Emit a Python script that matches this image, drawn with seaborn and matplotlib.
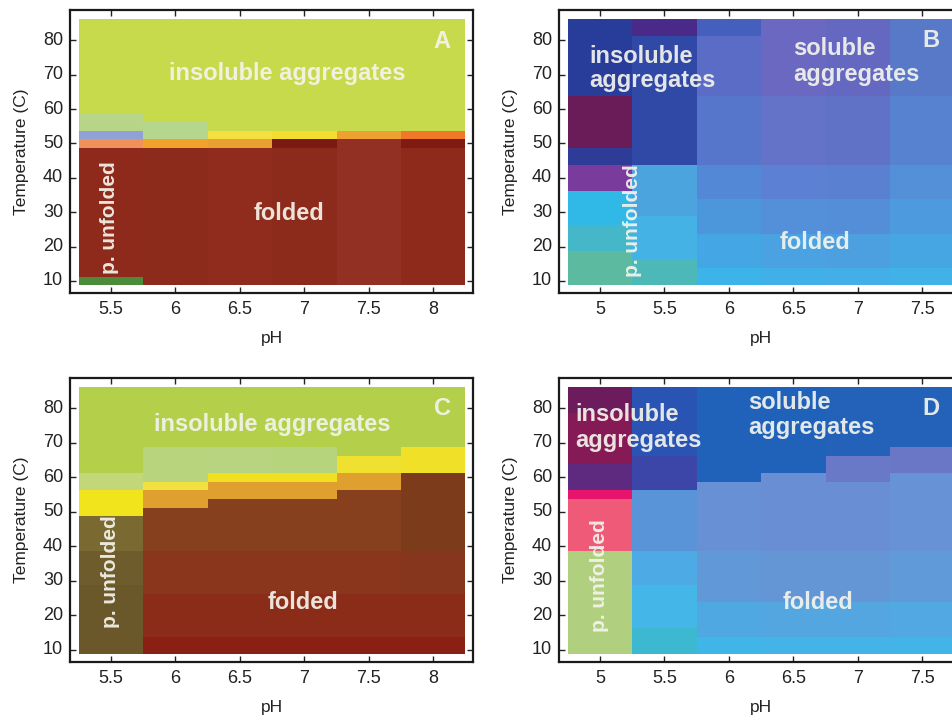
import numpy as np
import matplotlib
matplotlib.use("Agg")
import matplotlib.pyplot as plt
from matplotlib.colors import ListedColormap
import seaborn as sns

sns.set_theme(style="white")
plt.rcParams['font.family'] = ['Liberation Sans', 'DejaVu Sans']

# ---------------- data ----------------
temps = np.arange(10, 85.1, 2.5)          # measured temperatures (rows)
ytick_vals = [10, 20, 30, 40, 50, 60, 70, 80]

ph_A = [5.5, 6, 6.5, 7, 7.5, 8]
ph_B = [5, 5.5, 6, 6.5, 7, 7.5]
ph_C = [5.5, 6, 6.5, 7, 7.5, 8]
ph_D = [5, 5.5, 6, 6.5, 7, 7.5]

# per pH column: list of (upper temperature boundary, colour) from bottom to top
seg_A = [
    [(11.25, '#4a8c3a'), (48.75, '#8e2a1c'), (51.25, '#f0905a'), (53.75, '#8ea2d8'),
     (58.75, '#b8d488'), (86.25, '#c6da4c')],
    [(48.75, '#8c2a1c'), (51.25, '#f0a22a'), (56.25, '#b6d68e'), (86.25, '#c6da4c')],
    [(48.75, '#902c1e'), (51.25, '#e8a030'), (53.75, '#f4e040'), (86.25, '#c6da4c')],
    [(48.75, '#8c2a1c'), (51.25, '#7a1a12'), (53.75, '#f4dc30'), (86.25, '#c6da4c')],
    [(51.25, '#933024'), (53.75, '#eea030'), (86.25, '#c6da4c')],
    [(48.75, '#8e2a1c'), (51.25, '#7e1c14'), (53.75, '#f07828'), (86.25, '#c6da4c')],
]
seg_B = [
    [(18.75, '#5cbaa0'), (26.25, '#44b8c8'), (36.25, '#30b8e6'), (43.75, '#7a3c9c'),
     (48.75, '#2e3c98'), (63.75, '#6a1c58'), (86.25, '#283c9a')],
    [(16.25, '#4cb8b8'), (28.75, '#44b2e4'), (43.75, '#4ca4de'), (81.25, '#3048a6'),
     (86.25, '#4a2a88')],
    [(13.75, '#3cb4ea'), (23.75, '#44a6e4'), (33.75, '#4c96dc'), (43.75, '#5288d6'),
     (63.75, '#5676cc'), (81.25, '#5a6cc6'), (86.25, '#4460bc')],
    [(13.75, '#42b0e8'), (23.75, '#4aa2e2'), (33.75, '#5490da'), (43.75, '#5c80d4'),
     (63.75, '#6472c8'), (86.25, '#6a68c0')],
    [(13.75, '#44aee8'), (23.75, '#4ca0e0'), (33.75, '#548ed8'), (43.75, '#5a80d2'),
     (63.75, '#6072c6'), (86.25, '#6468c0')],
    [(13.75, '#40b2e8'), (23.75, '#46a6e4'), (33.75, '#4e9ade'), (43.75, '#5490d8'),
     (63.75, '#5682d0'), (86.25, '#5878c8')],
]
seg_C = [
    [(28.75, '#6a582a'), (38.75, '#6e5c2c'), (48.75, '#7a6a32'), (56.25, '#f2e41c'),
     (61.25, '#c2d878'), (86.25, '#b4cf4a')],
    [(13.75, '#8a2014'), (26.25, '#8a2c18'), (38.75, '#8a361c'), (51.25, '#86401e'),
     (56.25, '#e0a030'), (58.75, '#f0e040'), (68.75, '#b8d47c'), (86.25, '#b4cf4a')],
    [(13.75, '#8a2014'), (26.25, '#8a2c18'), (38.75, '#8a361c'), (53.75, '#86401e'),
     (58.75, '#e0a030'), (61.25, '#f0e020'), (68.75, '#b8d480'), (86.25, '#b4cf4a')],
    [(13.75, '#8a2014'), (26.25, '#8a2c18'), (38.75, '#8a361c'), (53.75, '#86401e'),
     (58.75, '#e0a030'), (61.25, '#f0e020'), (68.75, '#b6d47c'), (86.25, '#b4cf4a')],
    [(13.75, '#8a2014'), (26.25, '#8a2c18'), (38.75, '#8a361c'), (56.25, '#86401e'),
     (61.25, '#e0a030'), (66.25, '#f0e030'), (86.25, '#b4cf4a')],
    [(13.75, '#8a2014'), (26.25, '#8a2c18'), (38.75, '#86361c'), (61.25, '#7c3c1c'),
     (68.75, '#f0e028'), (86.25, '#b4cf4a')],
]
seg_D = [
    [(38.75, '#b0d080'), (53.75, '#ee5a78'), (56.25, '#e8146c'), (63.75, '#5e2a80'),
     (78.75, '#861a56'), (86.25, '#6c1c5c')],
    [(16.25, '#3cb8d0'), (28.75, '#44b6e8'), (38.75, '#4eaae4'), (56.25, '#5a94d8'),
     (66.25, '#3c46a8'), (86.25, '#2a54b4')],
    [(13.75, '#40b6e8'), (23.75, '#50a8e2'), (38.75, '#6098d8'), (58.75, '#6890d4'),
     (86.25, '#2062ba')],
    [(13.75, '#44b4e8'), (23.75, '#54a6e0'), (38.75, '#6496d6'), (61.25, '#6a8ed4'),
     (86.25, '#2062ba')],
    [(13.75, '#44b4e8'), (23.75, '#54a6e0'), (38.75, '#6496d6'), (58.75, '#6a8ed4'),
     (66.25, '#6a78c8'), (86.25, '#2462ba')],
    [(13.75, '#42b4e8'), (23.75, '#52a8e2'), (38.75, '#609ad8'), (61.25, '#6892d6'),
     (68.75, '#6a76c6'), (86.25, '#2462ba')],
]

# annotations: (text, pH, T, ha, rotation, size)
ann_A = [("insoluble aggregates", 6.87, 70.3, 'center', 0, 17),
         ("folded", 6.88, 29.7, 'center', 0, 17),
         ("p. unfolded", 5.49, 28.3, 'center', 90, 15),
         ("A", 8.07, 79.6, 'center', 0, 17)]
ann_B = [("insoluble", 4.92, 75.4, 'left', 0, 17),
         ("aggregates", 4.92, 68.2, 'left', 0, 17),
         ("soluble", 6.50, 77.6, 'left', 0, 17),
         ("aggregates", 6.50, 70.1, 'left', 0, 17),
         ("folded", 6.67, 21.3, 'center', 0, 17),
         ("p. unfolded", 5.255, 27.6, 'center', 90, 15),
         ("B", 7.565, 80.0, 'center', 0, 17)]
ann_C = [("insoluble aggregates", 6.75, 75.3, 'center', 0, 17),
         ("folded", 6.99, 23.8, 'center', 0, 17),
         ("p. unfolded", 5.5, 32.7, 'center', 90, 15),
         ("C", 8.07, 80.0, 'center', 0, 17)]
ann_D = [("insoluble", 4.81, 78.1, 'left', 0, 17),
         ("aggregates", 4.81, 70.6, 'left', 0, 17),
         ("soluble", 6.15, 81.7, 'left', 0, 17),
         ("aggregates", 6.15, 74.4, 'left', 0, 17),
         ("folded", 6.69, 23.8, 'center', 0, 17),
         ("p. unfolded", 5.0, 31.5, 'center', 90, 15),
         ("D", 7.565, 80.0, 'center', 0, 17)]

# ---------------- drawing ----------------
W, H = 953, 724
fig = plt.figure(figsize=(W / 100, H / 100), dpi=100)

T0 = temps[0] - 1.25
DT = 2.5


def ty(T):
    return (T - T0) / DT


def build(segs, ph):
    colors = []
    mat = np.zeros((len(temps), len(ph)), dtype=int)
    for j, col in enumerate(segs):
        for i, T in enumerate(temps):
            for up, c in col:
                if T < up:
                    if c not in colors:
                        colors.append(c)
                    mat[i, j] = colors.index(c)
                    break
    return mat, colors


def panel(rect, ph, segs, anns):
    ax = fig.add_axes(rect)
    mat, colors = build(segs, ph)
    sns.heatmap(mat, cmap=ListedColormap(colors), vmin=-0.5, vmax=len(colors) - 0.5,
                cbar=False, ax=ax, linewidths=0)
    p0 = ph[0]

    def tx(p):
        return (p - p0) / 0.5 + 0.5

    ax.set_xlim(tx(p0 - 0.318), tx(p0 - 0.318 + 3.127))
    ax.set_ylim(ty(6.5), ty(88.8))
    ax.set_xticks([tx(p) for p in ph])
    ax.set_xticklabels([f"{p:g}" for p in ph], rotation=0)
    ax.set_yticks([ty(t) for t in ytick_vals])
    ax.set_yticklabels([str(t) for t in ytick_vals], rotation=0)
    for s in ax.spines.values():
        s.set_visible(True)
        s.set_linewidth(1.6)
        s.set_color('#1a1a1a')
    ax.tick_params(direction='in', length=4, width=1, top=True, right=True,
                   bottom=True, left=True, labelsize=13, pad=6, colors='#222222',
                   labelcolor='#222222')
    ax.tick_params(axis='y', pad=5)
    ax.set_xlabel("pH", fontsize=12.5, labelpad=9, color='#222222')
    ax.set_ylabel("Temperature (C)", fontsize=12.5, labelpad=10, color='#222222')
    for txt, p, T, ha, rot, size in anns:
        ax.text(tx(p), ty(T), txt, ha=ha, va='center', rotation=rot, fontsize=size,
                fontweight='bold', color='#f4f4ec', alpha=0.92)
    return ax


wfrac = 403 / W
panel([70 / W, (H - 293) / H, wfrac, 283 / H], ph_A, seg_A, ann_A)
panel([559 / W, (H - 293) / H, wfrac, 283 / H], ph_B, seg_B, ann_B)
panel([70 / W, (H - 662) / H, wfrac, 284 / H], ph_C, seg_C, ann_C)
panel([559 / W, (H - 662) / H, wfrac, 284 / H], ph_D, seg_D, ann_D)

fig.savefig("out.png", dpi=100)
